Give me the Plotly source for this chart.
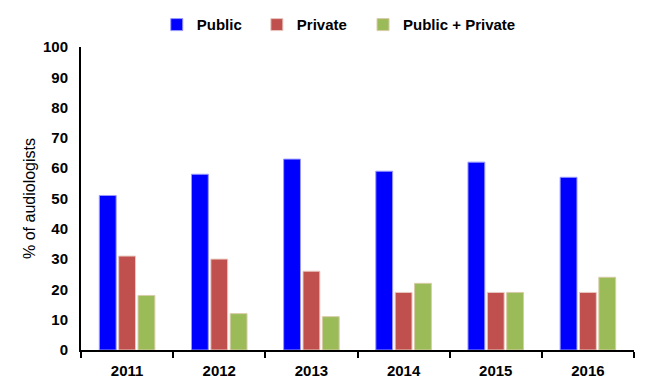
import plotly.graph_objects as go

years = ["2011", "2012", "2013", "2014", "2015", "2016"]
public = [51, 58, 63, 59, 62, 57]
private = [31, 30, 26, 19, 19, 19]
public_private = [18, 12, 11, 22, 19, 24]

series = [
    ("Public", public, "#0000FF", "#9999FF", "legend", 0.137),
    ("Private", private, "#C0504D", "#E8C8C0", "legend2", 0.318),
    ("Public + Private", public_private, "#9BBB59", "#D8CCA8", "legend3", 0.51),
]

fig = go.Figure()
font_family = "Liberation Sans, Arial, sans-serif"
legend_layout = {}
for name, vals, color, edge, leg, lx in series:
    fig.add_trace(go.Bar(x=years, y=vals, name=name, legend=leg,
                         marker=dict(color=color, line=dict(color=edge, width=1))))
    legend_layout[leg] = dict(orientation="h", x=lx, xanchor="left",
                              y=0.956, yanchor="middle", yref="container",
                              font=dict(size=15, weight="bold"), itemwidth=30,
                              bgcolor="rgba(0,0,0,0)")

fig.update_layout(
    width=640, height=383,
    margin=dict(l=73, r=14, t=39, b=41, autoexpand=False),
    paper_bgcolor="white", plot_bgcolor="white",
    barmode="group", bargap=0.37, bargroupgap=0.13,
    font=dict(family=font_family, size=15, color="black"),
    showlegend=True,
    **legend_layout,
)
fig.update_xaxes(showline=True, linecolor="black", linewidth=2, ticks="outside",
                 tickson="boundaries", ticklen=6, tickcolor="black", tickwidth=1.5,
                 ticklabelstandoff=6,
                 tickfont=dict(size=15, weight="bold"), showgrid=False)
fig.update_yaxes(range=[0, 100], dtick=10, showline=True, linecolor="black", linewidth=2,
                 showgrid=False, zeroline=False, ticks="", ticklabelstandoff=8,
                 tickfont=dict(size=15, weight="bold"),
                 title=dict(text="% of audiologists", font=dict(size=16), standoff=3))

fig.write_html("out.html")
